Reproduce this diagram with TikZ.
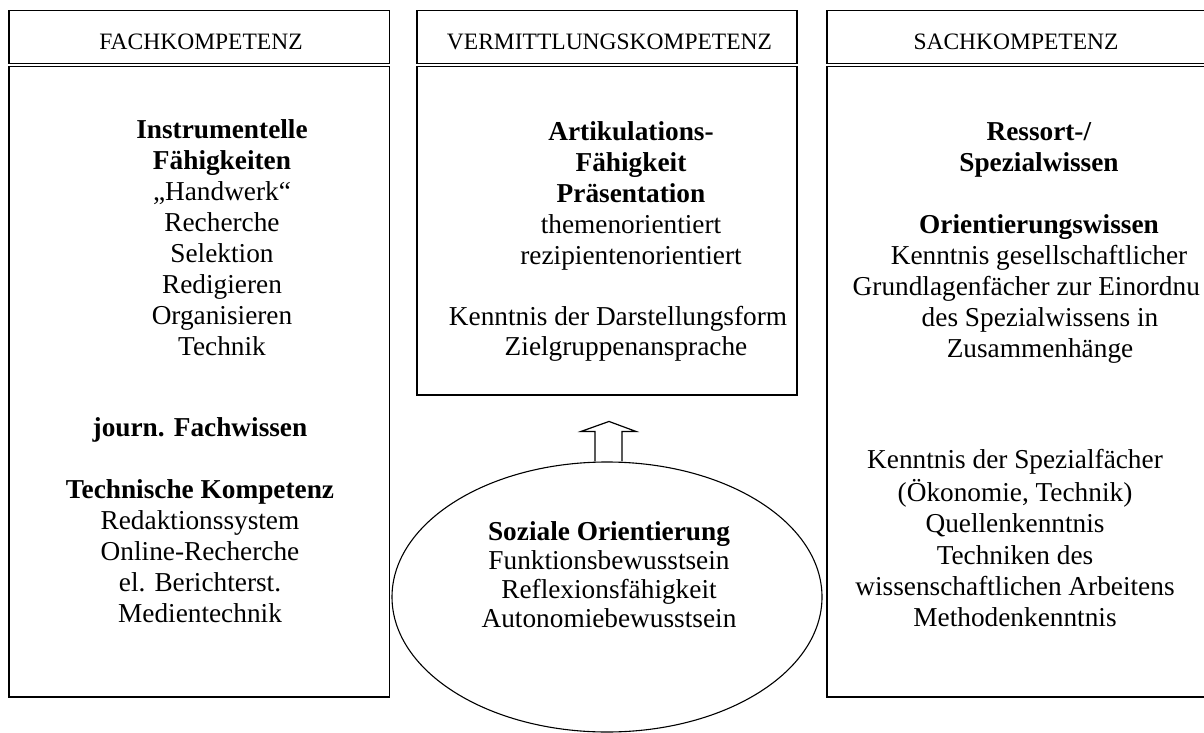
\documentclass[tikz,border=0pt]{standalone}
\usepackage{fontspec}
\setmainfont{Liberation Serif}
\usetikzlibrary{shapes.geometric}
\tikzset{
  frame/.style={draw, line width=1.4pt, inner sep=0pt},
  hdrtxt/.style={font=\fontsize{23.5}{28}\selectfont, anchor=base, inner sep=0pt},
  txt/.style={font=\fontsize{27.3}{31}\selectfont, align=center, anchor=north, inner sep=0pt},
  line/.style={font=\fontsize{27.3}{31}\selectfont, anchor=base, inner sep=0pt},
  oval/.style={draw, ellipse, line width=1.1pt, inner sep=0pt},
  blockarrow/.style={draw, line width=1.2pt, line join=miter},
}
\begin{document}
\begin{tikzpicture}[x=1pt,y=-1pt]
\useasboundingbox (0,0) rectangle (1204,733);
% header boxes
\node[frame, minimum width=380.5pt, minimum height=53pt] (h1) at (199.25,37) {};
\node[frame, minimum width=380pt, minimum height=53pt] (h2) at (607,37) {};
\node[frame, minimum width=379pt, minimum height=53pt] (h3) at (1016.5,37) {};
\node[hdrtxt] (t1) at (201,50) {FACHKOMPETENZ};
\node[hdrtxt] (t2) at (609.5,50) {VERMITTLUNGSKOMPETENZ};
\node[hdrtxt] (t3) at (1016,50) {SACHKOMPETENZ};
% body boxes
\node[frame, minimum width=380.5pt, minimum height=630.5pt] (b1) at (199.25,381.75) {};
\node[frame, minimum width=380pt, minimum height=328.5pt] (b2) at (607,230.75) {};
\node[frame, minimum width=379pt, minimum height=630.5pt] (b3) at (1016.5,381.75) {};
% left column
\node[txt] (l1) at (222,116.8) {\strut\textbf{Instrumentelle}\\\textbf{Fähigkeiten}\\„Handwerk“\\Recherche\\Selektion\\Redigieren\\Organisieren\\Technik};
\node[line] (l2) at (200,436.5) {\textbf{journ. Fachwissen}};
\node[txt] (l3) at (200,476.8) {\strut\textbf{Technische Kompetenz}\\Redaktionssystem\\Online-Recherche\\el. Berichterst.\\Medientechnik};
% middle column
\node[txt] (m1) at (631,118.8) {\strut\textbf{Artikulations-}\\\textbf{Fähigkeit}\\\textbf{Präsentation}\\themenorientiert\\rezipientenorientiert};
\node[line] (m2) at (618,325.5) {Kenntnis der Darstellungsform};
\node[line] (m3) at (626,355.5) {Zielgruppenansprache};
% right column
\node[txt] (r1) at (1039,118.8) {\strut\textbf{Ressort-/}\\\textbf{Spezialwissen}};
\node[txt] (r2) at (1039,211.8) {\strut\textbf{Orientierungswissen}\\Kenntnis gesellschaftlicher};
\node[line, anchor=base west] (r2b) at (852.5,295.5) {Grundlagenfächer zur Einordnu};
\node[txt] (r2c) at (1040,304.8) {\strut des Spezialwissens in\\Zusammenhänge};
\node[txt, font=\fontsize{27.3}{31.3}\selectfont] (r3) at (1015,446.8) {\strut Kenntnis der Spezialfächer\\(Ökonomie, Technik)\\Quellenkenntnis\\Techniken des\\wissenschaftlichen Arbeitens\\Methodenkenntnis};
% ellipse
\node[oval, minimum width=430pt, minimum height=270pt] (ell) at (607,597) {};
\node[txt, font=\fontsize{27.3}{29}\selectfont] (e1) at (609,520.2) {\strut\textbf{Soziale Orientierung}\\Funktionsbewusstsein\\Reflexionsfähigkeit\\Autonomiebewusstsein};
% block arrow from ellipse to middle box
\draw[blockarrow] ([xshift=-12pt]ell.north) -- ++(0,-30) -- ++(-14,0) -- ++(28,-10) -- ++(27,10) -- ++(-14,0) -- ++(0,30);
\end{tikzpicture}
\end{document}
